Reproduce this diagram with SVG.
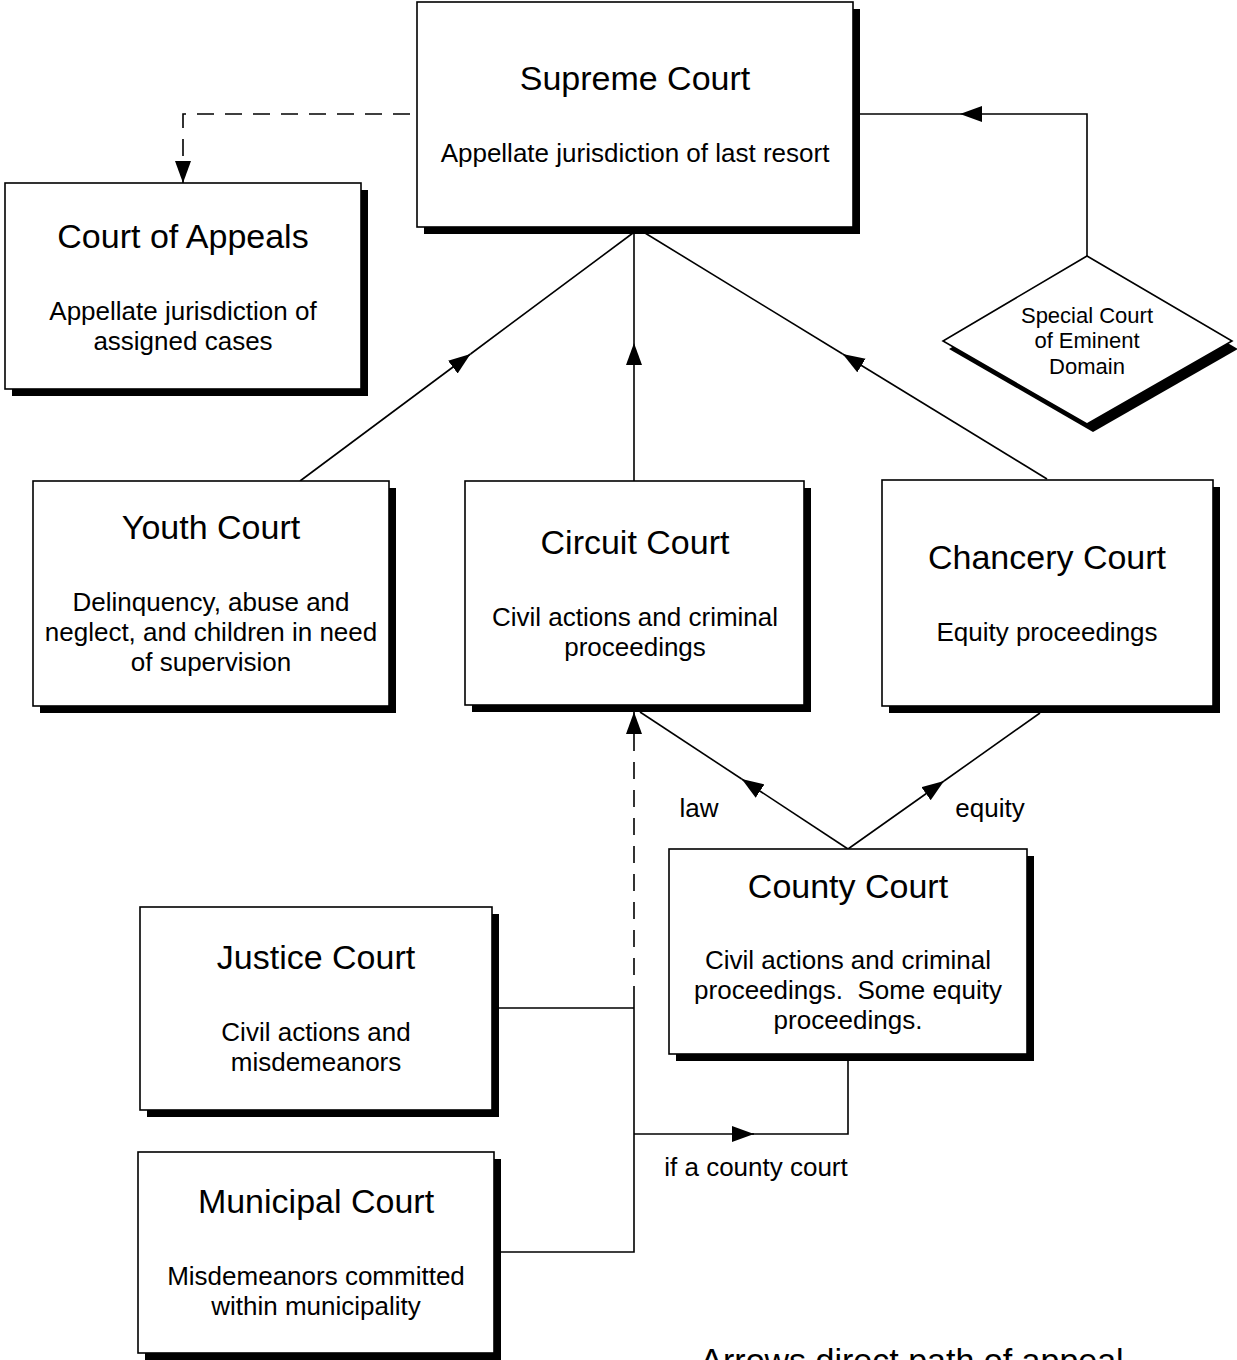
<svg xmlns="http://www.w3.org/2000/svg" width="1237" height="1360" viewBox="0 0 1237 1360">
<style>
.box{fill:#fff;stroke:#000;stroke-width:1.6}
.sh{fill:#000}
.t{font-family:"Liberation Sans",Arial,sans-serif;font-size:34px;text-anchor:middle;fill:#000}
.b{font-family:"Liberation Sans",Arial,sans-serif;font-size:26px;text-anchor:middle;fill:#000;white-space:pre}
.d{font-family:"Liberation Sans",Arial,sans-serif;font-size:22px;text-anchor:middle;fill:#000}
.c{fill:none;stroke:#000;stroke-width:1.6}
.dash{stroke-dasharray:17 11}
</style>
<defs>
<marker id="ah" markerUnits="userSpaceOnUse" markerWidth="24" markerHeight="18" refX="22" refY="8" orient="auto">
<path d="M0,0 L22,8 L0,16 z" fill="#000"/>
</marker>
</defs>
<rect width="1237" height="1360" fill="#fff"/>
<g id="connectors">
<path class="c dash" d="M410,114 H183 V183" marker-end="url(#ah)"/>
<path class="c" d="M1087,256 V114 H960" marker-end="url(#ah)"/>
<path class="c" d="M960,114 H860"/>
<path class="c" d="M300,481 L470.5,354" marker-end="url(#ah)"/>
<path class="c" d="M470.5,354 L633,233"/>
<path class="c" d="M634,481 V343" marker-end="url(#ah)"/>
<path class="c" d="M634,343 V233"/>
<path class="c" d="M1047,479 L842.7,354" marker-end="url(#ah)"/>
<path class="c" d="M842.7,354 L645,233"/>
<path class="c" d="M848,849 L741.7,779" marker-end="url(#ah)"/>
<path class="c" d="M741.7,779 L640,712"/>
<path class="c" d="M848,849 L944,781" marker-end="url(#ah)"/>
<path class="c" d="M944,781 L1040,713"/>
<path class="c dash" d="M634,1003 V712" marker-end="url(#ah)"/>
<path class="c" d="M499,1008 H634 M634,1003 V1252 H501"/>
<path class="c" d="M634,1134 H754" marker-end="url(#ah)"/>
<path class="c" d="M752,1134 H848 V1061"/>
<text class="b" x="699" y="817">law</text>
<text class="b" x="990" y="817">equity</text>
<text class="b" x="756" y="1176">if a county court</text>
</g>
<g id="supreme">
<rect class="sh" x="424" y="9" width="436" height="225"/>
<rect class="box" x="417" y="2" width="436" height="225"/>
<text class="t" x="635" y="90">Supreme Court</text>
<text class="b" x="635" y="162">Appellate jurisdiction of last resort</text>
</g>
<g id="appeals">
<rect class="sh" x="12" y="190" width="356" height="206"/>
<rect class="box" x="5" y="183" width="356" height="206"/>
<text class="t" x="183" y="248">Court of Appeals</text>
<text class="b" x="183" y="320">Appellate jurisdiction of</text>
<text class="b" x="183" y="350">assigned cases</text>
</g>
<g id="eminent">
<polygon class="sh" points="1093,264 1238,349 1093,432 949,349"/>
<polygon class="box" points="1087,256 1232,341 1087,424 943,341"/>
<text class="d" x="1087" y="323">Special Court</text>
<text class="d" x="1087" y="348">of Eminent</text>
<text class="d" x="1087" y="374">Domain</text>
</g>
<g id="youth">
<rect class="sh" x="40" y="488" width="356" height="225"/>
<rect class="box" x="33" y="481" width="356" height="225"/>
<text class="t" x="211" y="539">Youth Court</text>
<text class="b" x="211" y="611">Delinquency, abuse and</text>
<text class="b" x="211" y="641">neglect, and children in need</text>
<text class="b" x="211" y="671">of supervision</text>
</g>
<g id="circuit">
<rect class="sh" x="472" y="488" width="339" height="224"/>
<rect class="box" x="465" y="481" width="339" height="224"/>
<text class="t" x="635" y="554">Circuit Court</text>
<text class="b" x="635" y="626">Civil actions and criminal</text>
<text class="b" x="635" y="656">proceedings</text>
</g>
<g id="chancery">
<rect class="sh" x="889" y="487" width="331" height="226"/>
<rect class="box" x="882" y="480" width="331" height="226"/>
<text class="t" x="1047" y="569">Chancery Court</text>
<text class="b" x="1047" y="641">Equity proceedings</text>
</g>
<g id="county">
<rect class="sh" x="676" y="856" width="358" height="205"/>
<rect class="box" x="669" y="849" width="358" height="205"/>
<text class="t" x="848" y="898">County Court</text>
<text class="b" x="848" y="969">Civil actions and criminal</text>
<text class="b" x="848" y="999">proceedings.  Some equity</text>
<text class="b" x="848" y="1029">proceedings.</text>
</g>
<g id="justice">
<rect class="sh" x="147" y="914" width="352" height="203"/>
<rect class="box" x="140" y="907" width="352" height="203"/>
<text class="t" x="316" y="969">Justice Court</text>
<text class="b" x="316" y="1041">Civil actions and</text>
<text class="b" x="316" y="1071">misdemeanors</text>
</g>
<g id="municipal">
<rect class="sh" x="145" y="1159" width="356" height="201"/>
<rect class="box" x="138" y="1152" width="356" height="201"/>
<text class="t" x="316" y="1213">Municipal Court</text>
<text class="b" x="316" y="1285">Misdemeanors committed</text>
<text class="b" x="316" y="1315">within municipality</text>
</g>
<text class="t" x="912" y="1372">Arrows direct path of appeal</text>
</svg>
